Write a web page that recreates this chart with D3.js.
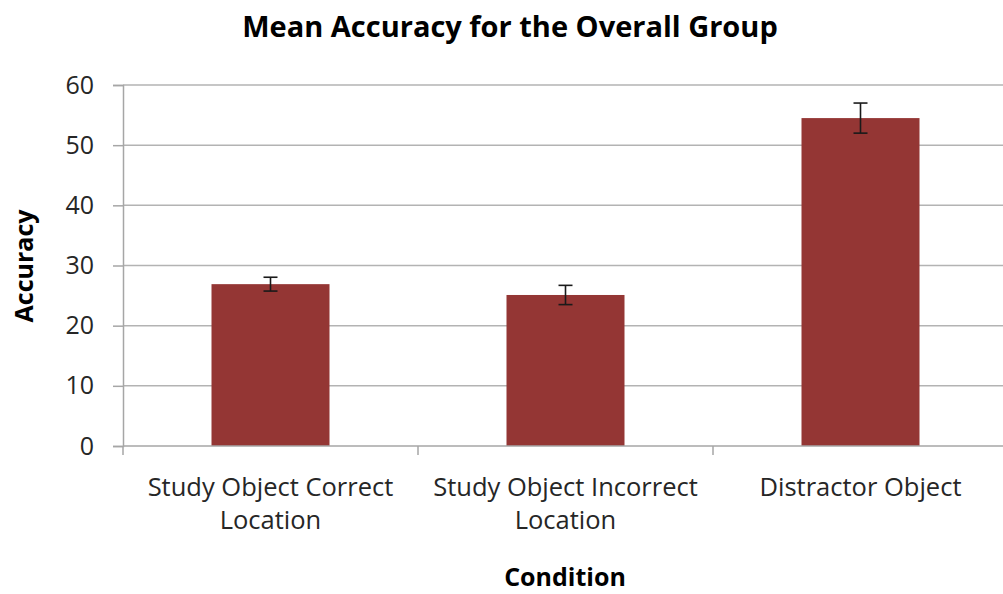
<!DOCTYPE html>
<html><head><meta charset="utf-8">
<script src="https://cdn.jsdelivr.net/npm/d3@7"></script>
<style>body{margin:0;background:#fff}</style>
</head><body>
<svg id="c" width="1003" height="594"></svg>
<script>
const categories = [["Study Object Correct","Location"],["Study Object Incorrect","Location"],["Distractor Object"]];
const means = [26.9, 25.1, 54.5];
const errors = [1.15, 1.6, 2.5];
const yTicks = [0,10,20,30,40,50,60];

const svg = d3.select("#c");
const font = "'Open Sans', sans-serif";
const m = {left:123, right:1008, top:85, bottom:446};

const x = d3.scaleBand().domain(d3.range(categories.length)).range([m.left, m.right]).paddingInner(0.6).paddingOuter(0.3);
const y = d3.scaleLinear().domain([0,60]).range([m.bottom, m.top]);

// gridlines
svg.append("g").selectAll("line").data(yTicks.filter(d=>d>0)).join("line")
  .attr("x1", m.left).attr("x2", m.right).attr("y1", d=>y(d)).attr("y2", d=>y(d))
  .attr("stroke", "#b3b3b3").attr("stroke-width", 1.5);

// y axis
const ya = svg.append("g").attr("transform", `translate(${m.left},0)`)
  .call(d3.axisLeft(y).tickValues(yTicks).tickSize(10).tickPadding(19));
ya.select(".domain").attr("stroke", "#a6a6a6").attr("stroke-width", 1.5);
ya.selectAll(".tick line").attr("stroke", "#a6a6a6").attr("stroke-width", 1.5);
ya.selectAll(".tick text").attr("font-family", font).attr("font-size", 25).attr("fill", "#262626");

// bars
svg.append("g").selectAll("rect").data(means).join("rect")
  .attr("x", (d,i)=>x(i)).attr("width", x.bandwidth())
  .attr("y", d=>y(d)).attr("height", d=>y(0)-y(d))
  .attr("fill", "#943634");

// error bars
const eb = svg.append("g").attr("stroke", "#1a1a1a").attr("stroke-width", 1.6);
means.forEach((d,i)=>{
  const cx = x(i) + x.bandwidth()/2;
  eb.append("line").attr("x1", cx).attr("x2", cx).attr("y1", y(d+errors[i])).attr("y2", y(d-errors[i]));
  eb.append("line").attr("x1", cx-7).attr("x2", cx+7).attr("y1", y(d+errors[i])).attr("y2", y(d+errors[i]));
  eb.append("line").attr("x1", cx-7).attr("x2", cx+7).attr("y1", y(d-errors[i])).attr("y2", y(d-errors[i]));
});

// x axis
const step = x.step();
const bounds = d3.range(categories.length+1).map(i => m.left + i*step);
svg.append("line").attr("x1", m.left).attr("x2", m.right).attr("y1", y(0)).attr("y2", y(0))
  .attr("stroke", "#a6a6a6").attr("stroke-width", 1.5);
svg.append("g").selectAll("line").data(bounds).join("line")
  .attr("x1", d=>d).attr("x2", d=>d).attr("y1", y(0)).attr("y2", y(0)+9)
  .attr("stroke", "#a6a6a6").attr("stroke-width", 1.5);

const xl = svg.append("g");
categories.forEach((lines,i)=>{
  const cx = x(i) + x.bandwidth()/2;
  const t = xl.append("text").attr("text-anchor","middle").attr("font-family", font)
    .attr("font-size", 25.5).attr("fill", "#262626");
  lines.forEach((s,j)=>t.append("tspan").attr("x", cx).attr("y", 496 + j*33).text(s));
});

// titles
svg.append("text").attr("x", 510).attr("y", 37).attr("text-anchor","middle")
  .attr("font-family", font).attr("font-weight","bold").attr("font-size", 29).attr("fill","#000")
  .text("Mean Accuracy for the Overall Group");
svg.append("text").attr("x", 565).attr("y", 586).attr("text-anchor","middle")
  .attr("font-family", font).attr("font-weight","bold").attr("font-size", 25).attr("fill","#000")
  .text("Condition");
svg.append("text").attr("transform", "translate(33,266) rotate(-90)").attr("text-anchor","middle")
  .attr("font-family", font).attr("font-weight","bold").attr("font-size", 25).attr("fill","#000")
  .text("Accuracy");
</script>
</body></html>
